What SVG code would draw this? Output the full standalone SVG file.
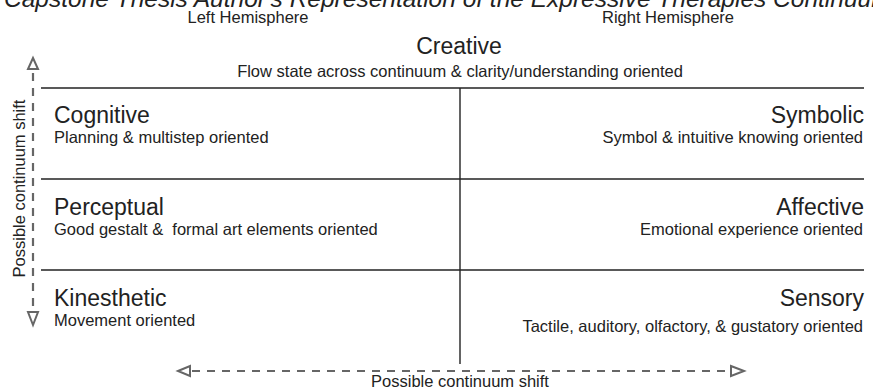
<svg xmlns="http://www.w3.org/2000/svg" width="873" height="391" viewBox="0 0 873 391">
<style>
text{font-family:"Liberation Sans",Arial,sans-serif;fill:#222}
.t{font-size:23px}
.s{font-size:16.5px}
.grid{stroke:#222;stroke-width:1.4;fill:none}
.dash{stroke:#666;stroke-width:2.2;stroke-dasharray:8,7;fill:none}
.head{fill:#fff;stroke:#666;stroke-width:2}
</style>
<rect width="873" height="391" fill="#fff"/>
<text x="4" y="7" style="font-size:24.5px;font-style:italic">Capstone Thesis Author's Representation of the Expressive Therapies Continuum</text>
<text class="s" x="248" y="23" text-anchor="middle">Left Hemisphere</text>
<text class="s" x="668" y="23" text-anchor="middle">Right Hemisphere</text>
<g id="grid">
<line class="grid" x1="41" y1="88" x2="864" y2="88"/>
<line class="grid" x1="41" y1="179" x2="864" y2="179"/>
<line class="grid" x1="41" y1="270" x2="864" y2="270"/>
<line class="grid" x1="460" y1="88" x2="460" y2="364"/>
</g>
<g id="creative"><text class="t" x="459" y="54" text-anchor="middle">Creative</text><text class="s" x="460" y="77" text-anchor="middle">Flow state across continuum &amp; clarity/understanding oriented</text></g>
<g id="cognitive"><text class="t" x="54" y="123">Cognitive</text><text class="s" x="54" y="143">Planning &amp; multistep oriented</text></g>
<g id="symbolic"><text class="t" x="864" y="123" text-anchor="end">Symbolic</text><text class="s" x="863" y="143" text-anchor="end">Symbol &amp; intuitive knowing oriented</text></g>
<g id="perceptual"><text class="t" x="54" y="215">Perceptual</text><text class="s" x="54" y="235" xml:space="preserve">Good gestalt &amp;  formal art elements oriented</text></g>
<g id="affective"><text class="t" x="864" y="215" text-anchor="end">Affective</text><text class="s" x="863" y="235" text-anchor="end">Emotional experience oriented</text></g>
<g id="kinesthetic"><text class="t" x="54" y="306">Kinesthetic</text><text class="s" x="54" y="326">Movement oriented</text></g>
<g id="sensory"><text class="t" x="864" y="306" text-anchor="end">Sensory</text><text class="s" x="863" y="332" text-anchor="end">Tactile, auditory, olfactory, &amp; gustatory oriented</text></g>
<g id="connectors">
<line class="dash" x1="33" y1="73" x2="33" y2="309"/>
<polygon class="head" points="33,58 28,69 38,69"/>
<polygon class="head" points="33,325 28,312 38,312"/>
<line class="dash" x1="192" y1="371" x2="730" y2="371"/>
<polygon class="head" points="178,371 190,366 190,376"/>
<polygon class="head" points="744,371 731,366 731,376"/>
</g>
<text class="s" transform="translate(25 188.5) rotate(-90)" text-anchor="middle">Possible continuum shift</text>
<text class="s" x="460" y="387" text-anchor="middle">Possible continuum shift</text>
</svg>
